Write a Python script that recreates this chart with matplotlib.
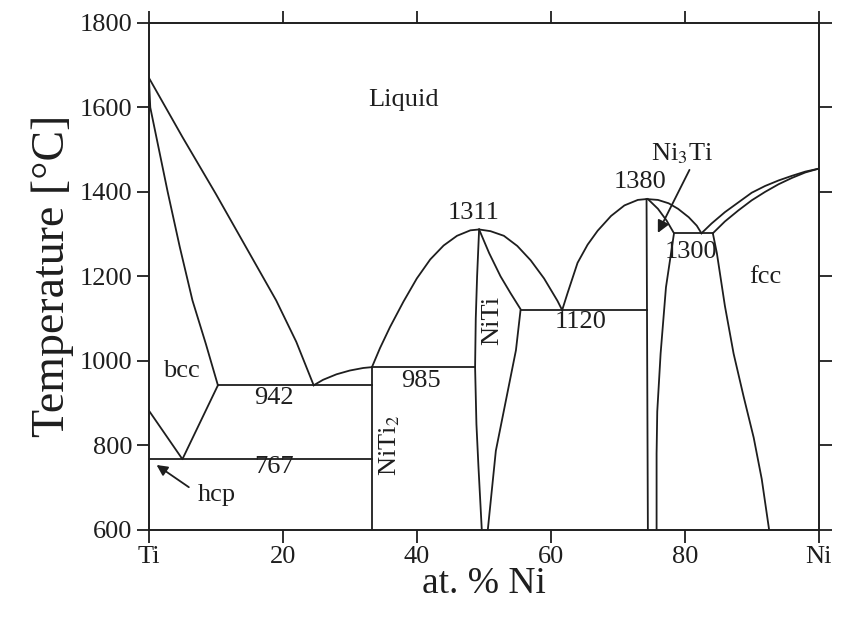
import matplotlib
matplotlib.use("Agg")
import matplotlib.pyplot as plt

plt.rcParams['font.family'] = ['Liberation Serif', 'DejaVu Serif']
plt.rcParams['mathtext.fontset'] = 'stix'

# phase boundaries, (at.% Ni, temperature in C)
liq_ti_x = [0, 5, 10, 15, 19, 22, 24.6]
liq_ti_t = [1670, 1530, 1395, 1255, 1143, 1045, 942]
sol_ti_x = [0, 0.2, 2.8, 4.6, 6.5, 8.5, 10.3]
sol_ti_t = [1670, 1600, 1400, 1270, 1143, 1040, 942]
transus_x = [0, 5, 10.3]
transus_t = [882, 767, 942]
liq_eut_x = [24.6, 26, 28, 30, 32, 33.3]
liq_eut_t = [942, 955, 968, 977, 983, 985]
dome1_x = [33.3, 34.5, 36, 38, 40, 42, 44, 46, 48, 49.3, 51, 53, 55, 57, 59, 61, 61.7]
dome1_t = [985, 1030, 1080, 1140, 1195, 1240, 1273, 1296, 1309, 1311,
           1307, 1296, 1272, 1238, 1195, 1142, 1120]
dome2_x = [61.7, 62.5, 64, 65.5, 67, 69, 71, 73, 74.3, 76, 77.6, 79, 80.6, 81.8, 82.5]
dome2_t = [1120, 1160, 1232, 1275, 1308, 1343, 1368, 1381, 1383,
           1381, 1373, 1360, 1340, 1320, 1302]
niti_l_x = [49.3, 49.0, 48.8, 48.7, 48.9, 49.2, 49.7]
niti_l_t = [1311, 1200, 1100, 985, 850, 750, 600]
niti_r_x = [49.3, 50.8, 52.5, 54, 55.5, 54.8, 53.3, 51.8, 50.6]
niti_r_t = [1311, 1255, 1200, 1160, 1122, 1025, 906, 787, 600]
ni3ti_l_x = [74.3, 74.5]
ni3ti_l_t = [1383, 600]
ni3ti_r_x = [74.5, 76, 77.3, 78.4, 77.2, 76.4, 75.9, 75.8, 75.8]
ni3ti_r_t = [1383, 1360, 1332, 1302, 1174, 1017, 880, 780, 600]
fcc_liq_x = [82.5, 84, 86, 88, 90, 92, 94, 96, 98, 100]
fcc_liq_t = [1302, 1325, 1352, 1375, 1398, 1414, 1427, 1438, 1448, 1455]
fcc_sol_x = [84.2, 86, 88, 90, 92, 94, 96, 98, 100]
fcc_sol_t = [1302, 1330, 1356, 1380, 1400, 1418, 1433, 1446, 1455]
fcc_solv_x = [84.2, 84.8, 86, 87.3, 88.8, 90.3, 91.5, 92.6]
fcc_solv_t = [1302, 1255, 1130, 1017, 915, 818, 720, 600]
niti2_x = [33.3, 33.3]
niti2_t = [600, 985]

# invariant lines: (x start, x end, temperature)
isotherms = [(0, 33.3, 767), (10.3, 33.3, 942), (33.3, 48.7, 985),
             (55.5, 74.3, 1120), (78.4, 84.2, 1302)]

x_ticks = [0, 20, 40, 60, 80, 100]
x_labels = ['Ti', '20', '40', '60', '80', 'Ni']
y_ticks = [600, 800, 1000, 1200, 1400, 1600, 1800]

# text labels: (x, T, text, rotation)
labels = [(38, 1617, 'Liquid', 0), (4.8, 977, 'bcc', 0), (18.7, 913, '942', 0),
          (18.7, 748, '767', 0), (10.2, 683, 'hcp', 0), (35.9, 800, r'NiTi$_2$', 90),
          (40.6, 953, '985', 0), (48.5, 1350, '1311', 0), (51.3, 1096, 'NiTi', 90),
          (64.4, 1091, '1120', 0), (73.4, 1423, '1380', 0), (81.0, 1258, '1300', 0),
          (92.0, 1198, 'fcc', 0), (79.6, 1490, r'Ni$_3$Ti', 0)]

ink = '#1e1e1e'
fig = plt.figure(figsize=(8.51, 6.21), dpi=100)
ax = fig.add_axes([0.175, 0.147, 0.787, 0.816])

curves = [(liq_ti_x, liq_ti_t), (sol_ti_x, sol_ti_t), (transus_x, transus_t),
          (liq_eut_x, liq_eut_t), (dome1_x, dome1_t), (dome2_x, dome2_t),
          (niti_l_x, niti_l_t), (niti_r_x, niti_r_t), (ni3ti_l_x, ni3ti_l_t),
          (ni3ti_r_x, ni3ti_r_t), (fcc_liq_x, fcc_liq_t), (fcc_sol_x, fcc_sol_t),
          (fcc_solv_x, fcc_solv_t), (niti2_x, niti2_t)]
for cx, ct in curves:
    ax.plot(cx, ct, color=ink, lw=1.3)
for x0, x1, t in isotherms:
    ax.plot([x0, x1], [t, t], color=ink, lw=1.3)

for x, t, s, rot in labels:
    ax.text(x, t, s, fontsize=19, rotation=rot, ha='center', va='center', color=ink)

ax.annotate('', xy=(0.8, 757), xytext=(6.3, 697),
            arrowprops=dict(arrowstyle='-|>', color=ink, lw=1.3, mutation_scale=16))
ax.annotate('', xy=(75.8, 1297), xytext=(80.9, 1458),
            arrowprops=dict(arrowstyle='-|>', color=ink, lw=1.3, mutation_scale=18))

ax.set_xlim(0, 100)
ax.set_ylim(600, 1800)
ax.set_xticks(x_ticks)
ax.set_xticklabels(x_labels)
ax.set_yticks(y_ticks)
ax.tick_params(direction='out', length=9, width=1.3, labelsize=19, colors=ink,
               top=True, right=True, pad=3)
for sp in ax.spines.values():
    sp.set_linewidth(1.4)
    sp.set_color(ink)
ax.set_xlabel('at. % Ni', fontsize=27, color=ink, labelpad=-1)
ax.set_ylabel('Temperature [°C]', fontsize=33, color=ink, labelpad=4)

fig.savefig('out.png', dpi=100)
